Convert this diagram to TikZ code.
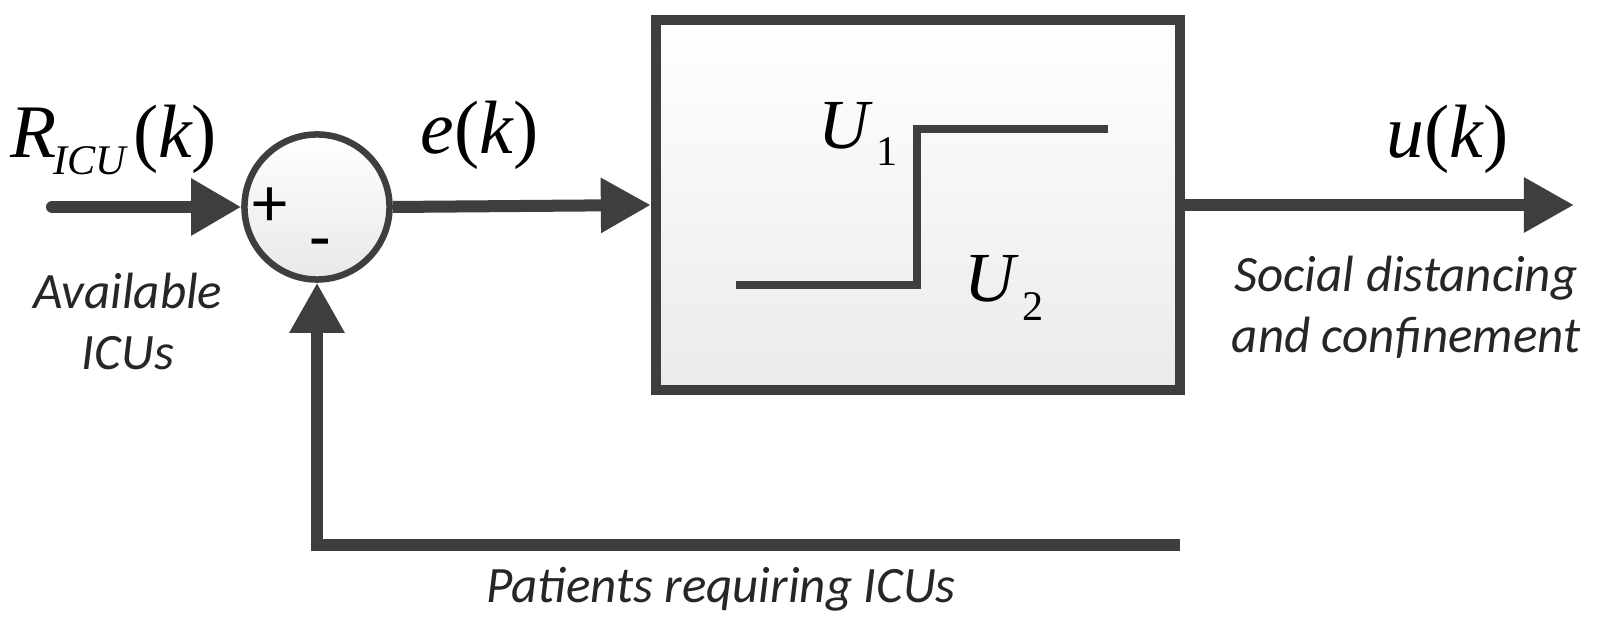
\documentclass[tikz,border=0pt]{standalone}
\usepackage{fontspec}
\usetikzlibrary{arrows.meta}
\newfontfamily\tms{Liberation Serif}
\newfontfamily\calfont{Carlito}
\definecolor{ink}{HTML}{3E3E3E}
\begin{document}
\begin{tikzpicture}[x=0.01cm,y=-0.01cm,
  flow/.style={draw=ink,line width=0.12cm,line join=miter,
    -{Triangle[length=0.5cm,width=0.52cm]}},
  fbline/.style={draw=ink,line width=0.12cm,line join=miter},
  stepline/.style={draw=ink,line width=0.08cm,line join=miter},
  mlab/.style={inner sep=0pt,anchor=base west,text=black,font=\fontsize{21.5}{24}\selectfont\tms},
  ulab/.style={inner sep=0pt,anchor=base west,text=black,font=\fontsize{20}{24}\selectfont\tms},
  slab/.style={inner sep=0pt,anchor=base,text=black!85,align=center,font=\fontsize{14.5}{17.5}\selectfont\calfont\itshape},
  sumnode/.style={circle,draw=ink,line width=0.065cm,minimum size=1.45cm,inner sep=0pt,
    top color=white,bottom color=black!9},
  blockbox/.style={rectangle,draw=ink,line width=0.1cm,minimum width=5.24cm,minimum height=3.70cm,
    inner sep=0pt,top color=white,bottom color=black!8}]
\useasboundingbox (0,0) rectangle (1599,625);
\fill[white] (0,0) rectangle (1599,625);

% nodes
\node[sumnode] (sum) at (317,207) {};
\node[blockbox] (box) at (918,205) {};
\coordinate (in) at (52,207);
\coordinate (out) at (1574,205);
\coordinate (fbr) at (1180,545);

% connectors
\draw[fbline,line cap=round,-{Triangle[length=0.5cm,width=0.54cm]}] (in) -- (sum.west);
\draw[flow] (sum.east) -- (box.west);
\draw[flow] (box.east) -- (out);
\draw[flow] (fbr) -| (sum.south);

% step characteristic
\draw[stepline] (736,285) -- (917,285) -- (917,129) -- (1108,129);

% signs
\node[inner sep=0pt,font=\fontsize{20}{20}\selectfont\calfont] (plus) at (270,207) {+};
\node[inner sep=0pt,font=\fontsize{20}{20}\selectfont\calfont] (minus) at (320,250) {-};

% math labels
\node[mlab] (rlab) at (10,158) {\itshape R\kern-1pt\raisebox{-0.16cm}{\fontsize{12}{12}\selectfont ICU}\kern2pt\upshape(\itshape k\upshape)};
\node[mlab] (elab) at (420,154) {\itshape e\upshape(\itshape k\upshape)};
\node[mlab] (ulab) at (1386,158) {\itshape u\upshape(\itshape k\upshape)};
\node[ulab] (u1) at (818,149) {\itshape U\kern2pt\raisebox{-0.17cm}{\upshape\fontsize{12}{12}\selectfont 1}};
\node[ulab] (u2) at (964,302) {\itshape U\kern2pt\raisebox{-0.18cm}{\upshape\fontsize{12}{12}\selectfont 2}};

% text labels (base anchor = baseline of last line)
\node[slab] (avail) at (128,370) {Available\\ICUs};
\node[slab] (social) at (1406,353) {Social distancing\\and confinement};
\node[slab] (patients) at (721,603) {Patients requiring ICUs};
\end{tikzpicture}
\end{document}
